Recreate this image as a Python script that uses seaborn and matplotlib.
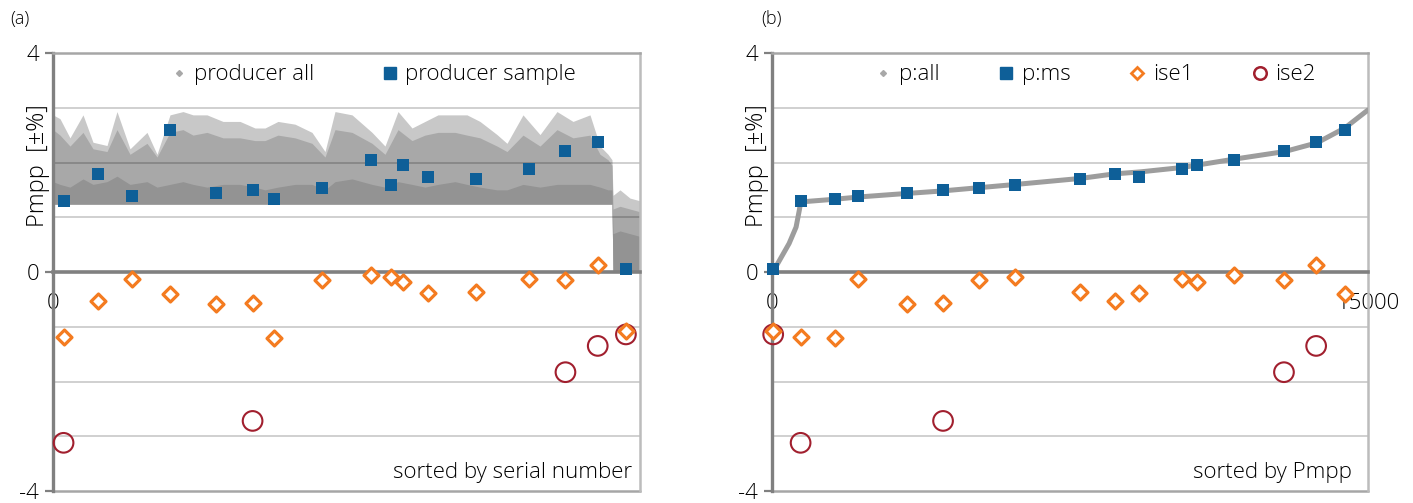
import matplotlib
matplotlib.use('Agg')
import matplotlib.pyplot as plt
from matplotlib.lines import Line2D
import numpy as np
import pandas as pd
import seaborn as sns

BLUE = '#0e5f98'
ORANGE = '#f47b20'
RED = '#a11f2e'
GREY = '#9d9d9d'

# measured modules, in serial-number order
serial_pos = [270, 1140, 2025, 3000, 4155, 5100, 5655, 6885, 8130, 8640, 8955, 9570, 10800, 12165, 13095, 13920, 14640]
# rank of the same modules once all modules are sorted by Pmpp
rank_pos = [720, 8625, 2160, 14430, 3390, 4305, 1575, 5220, 11625, 6105, 10695, 9240, 7755, 10320, 12885, 13695, 30]
pmpp_producer = [1.29, 1.79, 1.38, 2.60, 1.44, 1.49, 1.33, 1.53, 2.05, 1.58, 1.95, 1.74, 1.70, 1.89, 2.21, 2.37, 0.06]
pmpp_ise1 = [-1.19, -0.53, -0.13, -0.41, -0.59, -0.57, -1.21, -0.14, -0.05, -0.10, -0.18, -0.38, -0.37, -0.12, -0.15, 0.12, -1.08]
pmpp_ise2 = [-3.12, np.nan, np.nan, np.nan, np.nan, -2.72, np.nan, np.nan, np.nan, np.nan, np.nan, np.nan, np.nan,
             np.nan, -1.83, -1.35, -1.14]

# producer data of all modules (panel a): read as envelopes of the point cloud
cloud_serial = [0, 179, 434, 767, 1022, 1380, 1635, 1968, 2402, 2658, 2990, 3322, 3578, 3935, 4344, 4779, 5162, 5417,
                5749, 6184, 6618, 6951, 7206, 7641, 8152, 8484, 8816, 9174, 9506, 9838, 10273, 10579, 10911, 11346,
                11601, 12010, 12445, 12879, 13288, 13722, 13978, 14182, 14284, 14310, 14489, 14744, 15000]
cloud_top = [2.87, 2.8, 2.45, 2.87, 2.37, 2.31, 2.93, 2.25, 2.55, 2.15, 2.87, 2.93, 2.87, 2.87, 2.75, 2.75, 2.63, 2.63,
             2.75, 2.7, 2.55, 2.2, 2.93, 2.87, 2.55, 2.3, 2.93, 2.63, 2.75, 2.87, 2.87, 2.87, 2.75, 2.51,
             2.35, 2.87, 2.51, 2.93, 2.75, 2.87, 2.3, 2.15, 2.05, 1.4, 1.5, 1.35, 1.3]
cloud_body = [2.6, 2.5, 2.3, 2.55, 2.25, 2.2, 2.6, 2.15, 2.35, 2.1, 2.55, 2.6, 2.5, 2.55, 2.45, 2.45, 2.4, 2.4,
              2.5, 2.45, 2.35, 2.1, 2.6, 2.55, 2.35, 2.15, 2.6, 2.4, 2.5, 2.55, 2.55, 2.5, 2.45, 2.3,
              2.2, 2.5, 2.3, 2.6, 2.45, 2.5, 2.15, 2.05, 1.95, 1.15, 1.2, 1.15, 1.1]
cloud_core = [1.65, 1.6, 1.55, 1.7, 1.6, 1.65, 1.75, 1.6, 1.65, 1.55, 1.6, 1.65, 1.6, 1.55, 1.6, 1.6, 1.55, 1.5,
              1.55, 1.6, 1.6, 1.5, 1.65, 1.7, 1.6, 1.55, 1.65, 1.6, 1.55, 1.6, 1.65, 1.6, 1.55, 1.5,
              1.5, 1.6, 1.55, 1.6, 1.6, 1.6, 1.55, 1.5, 1.5, 0.7, 0.75, 0.7, 0.65]
cloud_floor = [1.24] * 43 + [0.0] * 4

# producer data of all modules sorted by Pmpp (panel b)
sorted_rank = [0, 140, 430, 606, 688, 723, 1597, 2180, 3112, 4277, 5210, 6142, 7774, 8590, 9289, 10338, 11620,
               12902, 13718, 14417, 15000]
sorted_pmpp = [0.0, 0.15, 0.52, 0.82, 1.13, 1.28, 1.33, 1.37, 1.42, 1.48, 1.54, 1.60, 1.71, 1.79, 1.83, 1.91, 2.06,
               2.20, 2.36, 2.63, 2.96]

sns.set_style('white')
plt.rcParams['font.family'] = ['Open Sans', 'DejaVu Sans']
plt.rcParams['font.weight'] = 'light'
plt.rcParams['text.color'] = 'black'
plt.rcParams['xtick.color'] = 'black'
plt.rcParams['ytick.color'] = 'black'


def style_axis(ax, xticks):
    ax.set_xlim(0, 15000)
    ax.set_ylim(-4, 4)
    ax.set_yticks([-4, 0, 4])
    ax.set_yticklabels(['-4', '0', '4'])
    ax.set_xticks(xticks)
    ax.set_xticklabels([str(t) for t in xticks])
    ax.set_axisbelow('line')
    for v in [-3, -2, -1, 1, 2, 3]:
        ax.axhline(v, color='k', alpha=0.2, lw=1.3, zorder=1.5)
    ax.axhline(-4, color='#a6a6a6', lw=1.8, zorder=1.6, clip_on=False)
    ax.spines['bottom'].set_position(('data', 0))
    ax.spines['bottom'].set_color('#808080')
    ax.spines['bottom'].set_linewidth(2.6)
    ax.spines['left'].set_color('#808080')
    ax.spines['left'].set_linewidth(2.4)
    ax.spines['top'].set_color('#a6a6a6')
    ax.spines['top'].set_linewidth(1.8)
    ax.spines['right'].set_color('#bcbcbc')
    ax.spines['right'].set_linewidth(1.8)
    for s in ax.spines.values():
        s.set_zorder(2)
    ax.tick_params(axis='y', length=6, width=1.6, color='#808080', labelcolor='black', pad=4, labelsize=16,
                   left=True)
    ax.tick_params(axis='x', length=0, pad=15, labelsize=16, labelcolor='black', bottom=True)
    ax.set_xlabel('')
    ax.set_ylabel('')
    # y label sits in a white box that hides part of the value axis
    ax.text(-0.025, 0.744, 'Pmpp  [\u00b1%]', transform=ax.transAxes, rotation=90, ha='center', va='center',
            fontsize=17, zorder=6, clip_on=False,
            bbox=dict(facecolor='white', edgecolor='none', pad=0.5))


def draw_samples(ax, xpos):
    df = pd.DataFrame({'x': xpos, 'producer': pmpp_producer, 'ise1': pmpp_ise1, 'ise2': pmpp_ise2})
    sns.scatterplot(data=df, x='x', y='ise2', ax=ax, marker='o', s=200, facecolor='none', edgecolor=RED,
                    linewidth=1.5, clip_on=False, zorder=7)
    sns.scatterplot(data=df, x='x', y='ise1', ax=ax, marker='D', s=58, facecolor='white', edgecolor=ORANGE,
                    linewidth=2.3, clip_on=False, zorder=7)
    sns.scatterplot(data=df, x='x', y='producer', ax=ax, marker='s', s=74, color=BLUE, linewidth=0,
                    clip_on=False, zorder=8)


fig = plt.figure(figsize=(14.13, 5.03), dpi=100)
ax_a = fig.add_axes([53 / 1413, 12 / 503, 587 / 1413, 438 / 503])
ax_b = fig.add_axes([772 / 1413, 12 / 503, 596 / 1413, 438 / 503])

# (a) sorted by serial number
ax_a.fill_between(cloud_serial, cloud_floor, cloud_top, color='#c8c8c8', lw=0, zorder=1)
ax_a.fill_between(cloud_serial, cloud_floor, cloud_body, color='#a8a8a8', lw=0, zorder=1.1)
ax_a.fill_between(cloud_serial, cloud_floor, cloud_core, color='#939393', lw=0, zorder=1.2)
draw_samples(ax_a, serial_pos)
style_axis(ax_a, [0])
ax_a.text(0.986, 0.043, 'sorted by serial number', transform=ax_a.transAxes, ha='right', va='center', fontsize=16)
handles_a = [Line2D([], [], marker='D', ls='', color='#a8a8a8', markersize=3),
             Line2D([], [], marker='s', ls='', color=BLUE, markersize=8)]
ax_a.legend(handles_a, ['producer all', 'producer sample'], loc='center', bbox_to_anchor=(0.545, 0.95), ncol=2,
            frameon=False, fontsize=16, handlelength=0.8, handletextpad=0.3, columnspacing=3.0)

# (b) sorted by Pmpp
sns.lineplot(x=sorted_rank, y=sorted_pmpp, ax=ax_b, color=GREY, linewidth=3.6, sort=False, estimator=None,
             zorder=3)
draw_samples(ax_b, rank_pos)
style_axis(ax_b, [0, 15000])
ax_b.text(0.973, 0.043, 'sorted by Pmpp', transform=ax_b.transAxes, ha='right', va='center', fontsize=16)
handles_b = [Line2D([], [], marker='D', ls='', color='#a8a8a8', markersize=3),
             Line2D([], [], marker='s', ls='', color=BLUE, markersize=8),
             Line2D([], [], marker='D', ls='', markerfacecolor='white', markeredgecolor=ORANGE, markeredgewidth=2,
                    markersize=6),
             Line2D([], [], marker='o', ls='', markerfacecolor='white', markeredgecolor=RED, markeredgewidth=1.8,
                    markersize=9)]
ax_b.legend(handles_b, ['p:all', 'p:ms', 'ise1', 'ise2'], loc='center', bbox_to_anchor=(0.542, 0.95), ncol=4,
            frameon=False, fontsize=16, handlelength=0.8, handletextpad=0.3, columnspacing=2.6)

fig.text(20 / 1413, 1 - 19 / 503, '(a)', ha='center', va='center', fontsize=13)
fig.text(772 / 1413, 1 - 19 / 503, '(b)', ha='center', va='center', fontsize=13)

fig.savefig('out.png', dpi=100)
